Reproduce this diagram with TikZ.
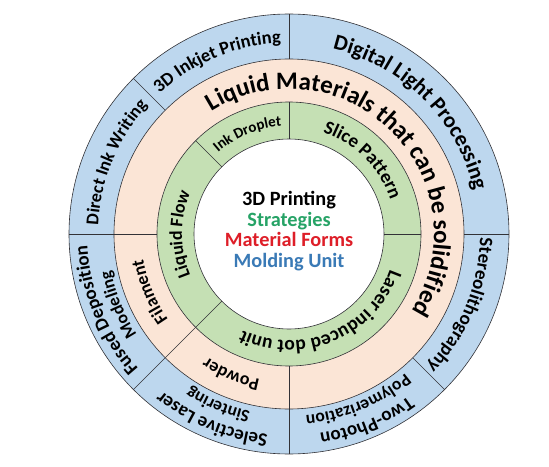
\documentclass[tikz,border=0pt]{standalone}
\usepackage{fontspec}
\setmainfont{Carlito}
\usetikzlibrary{decorations.text}
\definecolor{ringBlue}{RGB}{189,215,238}
\definecolor{ringSalmon}{RGB}{251,229,214}
\definecolor{ringGreen}{RGB}{197,224,180}
\definecolor{ringLine}{RGB}{50,50,55}
\definecolor{stratGreen}{RGB}{38,163,102}
\definecolor{formRed}{RGB}{222,30,40}
\definecolor{unitBlue}{RGB}{58,122,182}
% text on a clockwise arc: radius, start, end, size, text
\newcommand{\ringtext}[5]{%
  \path[decorate, decoration={text along path, text align=center,
    text={|\fontsize{#4}{#4}\selectfont\bfseries|#5}}]
    (#2:#1) arc[start angle=#2, end angle=#3, radius=#1];}
\begin{document}
\begin{tikzpicture}[ring/.style={draw=ringLine, line width=0.6pt},
    divider/.style={ringLine, line width=0.6pt}]
  \useasboundingbox (-289pt,-232pt) rectangle (260pt,234pt);
  \fill[ringBlue] (0,0) circle[radius=220pt];
  \fill[ringSalmon] (0,0) circle[radius=175pt];
  \fill[ringGreen] (0,0) circle[radius=132pt];
  \fill[white] (0,0) circle[radius=95pt];
  \foreach \r in {220pt, 175pt, 132pt, 95pt}
    \draw[ring] (0,0) circle[radius=\r];
  \foreach \a in {0, 90, 135, 180, 225, 270, 315}
    \draw[divider] (\a:175pt) -- (\a:220pt);
  \foreach \a in {180, 225, 270}
    \draw[divider] (\a:132pt) -- (\a:175pt);
  \foreach \a in {0, 90, 135, 225}
    \draw[divider] (\a:95pt) -- (\a:132pt);
  % molding units
  \ringtext{191pt}{135}{90}{18.5}{3D Inkjet Printing}
  \ringtext{190pt}{90}{0}{22}{Digital Light Processing}
  \ringtext{191pt}{180}{135}{18}{Direct Ink Writing}
  \ringtext{191pt}{360}{315}{19}{Stereolithography}
  \ringtext{202pt}{225}{180}{19}{Fused Deposition}
  \ringtext{182pt}{225}{180}{17.5}{Modeling}
  \ringtext{202pt}{270}{225}{19}{Selective Laser}
  \ringtext{182pt}{270}{225}{17.5}{Sintering}
  \ringtext{202pt}{315}{270}{19}{Two-Photon}
  \ringtext{182pt}{315}{270}{17.5}{Polymerization}
  % material forms
  \ringtext{145pt}{180}{-90}{25}{Liquid Materials that can be solidified}
  \ringtext{148pt}{225}{180}{18}{Filament}
  \ringtext{148pt}{270}{225}{18}{Powder}
  % strategies
  \ringtext{108pt}{135}{90}{15}{Ink Droplet}
  \ringtext{107pt}{90}{0}{19}{Slice Pattern}
  \ringtext{107pt}{225}{135}{18}{Liquid Flow}
  \ringtext{107pt}{360}{225}{19.5}{Laser induced dot unit}
  \node[align=center, font=\bfseries\fontsize{20.3}{20.5}\selectfont] (core) at (0,3pt)
    {3D Printing\\\textcolor{stratGreen}{Strategies}\\
     \textcolor{formRed}{Material Forms}\\\textcolor{unitBlue}{Molding Unit}};
\end{tikzpicture}
\end{document}
